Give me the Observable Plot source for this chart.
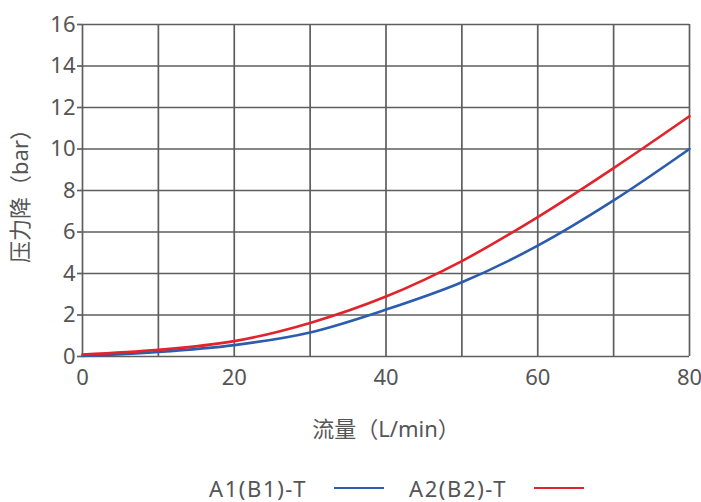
<!DOCTYPE html>
<html>
<head>
<meta charset="utf-8">
<script src="https://cdn.jsdelivr.net/npm/d3@7"></script>
<script src="https://cdn.jsdelivr.net/npm/@observablehq/plot@0.6"></script>
<style>
  html, body { margin: 0; padding: 0; background: #fff; }
  body { width: 701px; height: 502px; overflow: hidden; font-family: "Noto Sans", "Noto Sans CJK SC", sans-serif; }
  #legend { position: relative; height: 42px; font-size: 22px; color: #555; letter-spacing: 1.6px; }
  .li { position: absolute; top: 13px; display: flex; align-items: center; }
  .sw { display: inline-block; width: 50px; height: 0; border-top: 2.5px solid; margin-left: 27px; }
</style>
</head>
<body>
<div id="chart"></div>
<div id="legend"></div>
<script>
const flow = [0, 10, 20, 30, 40, 50, 60, 70, 80];
const seriesNames = ["A1(B1)-T", "A2(B2)-T"];
const seriesColors = ["#2b5cad", "#e1232b"];
const a1 = [0.03, 0.22, 0.55, 1.16, 2.26, 3.58, 5.34, 7.52, 10.0];
const a2 = [0.10, 0.32, 0.74, 1.62, 2.89, 4.60, 6.72, 9.08, 11.58];
const xTicks = [0, 20, 40, 60, 80];
const yTicks = [0, 2, 4, 6, 8, 10, 12, 14, 16];
const xGrid = [0, 10, 20, 30, 40, 50, 60, 70, 80];
const xLabel = "流量（L/min）";
const yLabel = "压力降（bar）";

const rows = [];
[a1, a2].forEach((vals, i) => vals.forEach((v, j) => rows.push({series: seriesNames[i], q: flow[j], p: v})));

const gridColor = "#5e5e5e";
const textColor = "#555";

const chart = Plot.plot({
  width: 701,
  height: 460,
  marginLeft: 82,
  marginRight: 12,
  marginTop: 24,
  marginBottom: 104,
  style: { fontFamily: "'Noto Sans', 'Noto Sans CJK SC', sans-serif", fontSize: "22px", color: textColor, background: "#fff", overflow: "visible" },
  x: { domain: [0, 80] },
  y: { domain: [0, 16] },
  color: { domain: seriesNames, range: seriesColors },
  marks: [
    Plot.gridX(xGrid, { stroke: gridColor, strokeOpacity: 1, strokeWidth: 1.7 }),
    Plot.gridY(yTicks, { stroke: gridColor, strokeOpacity: 1, strokeWidth: 1.7 }),
    Plot.axisY(yTicks, { tickSize: 5, stroke: gridColor, strokeWidth: 1.7, tickPadding: 2, label: yLabel, labelAnchor: "center", labelArrow: "none", labelOffset: 70, fontSize: 22 }),
    Plot.axisX(xTicks, { tickSize: 0, tickPadding: 13, label: xLabel, labelAnchor: "center", labelArrow: "none", labelOffset: 80, fontSize: 22 }),
    Plot.line(rows, { x: "q", y: "p", z: "series", stroke: "series", strokeWidth: 2.6, curve: "monotone-x" })
  ]
});
document.getElementById("chart").appendChild(chart);

const legend = document.getElementById("legend");
const lx = [209, 409];
seriesNames.forEach((n, i) => {
  const d = document.createElement("div");
  d.className = "li";
  d.style.left = lx[i] + "px";
  d.innerHTML = `<span>${n}</span><span class="sw" style="border-color:${seriesColors[i]}"></span>`;
  legend.appendChild(d);
});
</script>
</body>
</html>
